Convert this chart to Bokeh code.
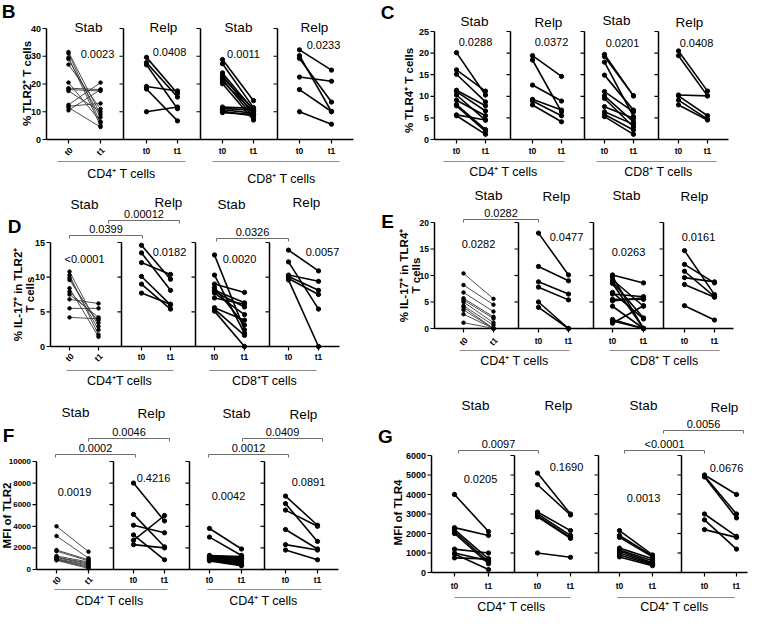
import math
from bokeh.plotting import figure
from bokeh.layouts import column, row
from bokeh.models import Range1d
from bokeh.core.properties import value
from bokeh.embed import file_html
from bokeh.resources import INLINE

FONT = "Liberation Sans"

# ------------------------------------------------------------------ data
groups_txt = ["Stab", "Relp", "Stab", "Relp"]
time_labels = ["t0", "t1"]

# Panel B: % TLR2+ T cells
B_ticks = [0, 10, 20, 30, 40]
B_pvals = ["0.0023", "0.0408", "0.0011", "0.0233"]
B_cd4_stab_t0 = [31.5, 31.0, 29.5, 29.0, 27.0, 20.5, 18.5, 18.0, 17.5, 12.5, 12.0, 11.5, 10.5]
B_cd4_stab_t1 = [9.0, 6.0, 5.0, 8.0, 11.0, 6.5, 18.0, 17.5, 10.0, 20.5, 13.0, 4.5, 18.0]
B_cd4_relp_t0 = [29.6, 27.7, 26.9, 19.1, 18.2, 10.0]
B_cd4_relp_t1 = [16.6, 15.3, 11.1, 17.5, 6.7, 11.7]
B_cd8_stab_t0 = [28.8, 27.3, 24.0, 23.2, 22.3, 21.6, 21.0, 20.1, 11.7, 11.2, 10.7, 10.2, 9.7]
B_cd8_stab_t1 = [14.0, 11.5, 10.5, 9.0, 11.0, 8.0, 10.0, 7.0, 11.2, 10.5, 9.5, 8.5, 9.0]
B_cd8_relp_t0 = [32.3, 30.2, 29.2, 22.5, 18.0, 10.0]
B_cd8_relp_t1 = [25.0, 10.0, 13.5, 21.0, 10.1, 5.5]

# Panel C: % TLR4+ T cells
C_ticks = [0, 5, 10, 15, 20, 25]
C_pvals = ["0.0288", "0.0372", "0.0201", "0.0408"]
C_cd4_stab_t0 = [20.1, 16.1, 15.1, 11.4, 11.1, 10.3, 9.1, 8.1, 7.8, 5.7, 5.5]
C_cd4_stab_t1 = [10.3, 11.2, 8.7, 7.8, 6.6, 4.5, 5.5, 2.3, 1.9, 4.5, 1.2]
C_cd4_relp_t0 = [19.4, 18.4, 12.6, 9.3, 8.9, 8.0]
C_cd4_relp_t1 = [14.6, 6.4, 8.9, 6.8, 5.5, 4.1]
C_cd8_stab_t0 = [19.7, 19.2, 17.9, 14.9, 11.1, 10.1, 9.5, 7.6, 6.4, 5.8, 5.3]
C_cd8_stab_t1 = [10.1, 10.1, 5.3, 6.8, 6.4, 4.1, 2.9, 4.9, 3.5, 2.2, 1.2]
C_cd8_relp_t0 = [20.5, 19.4, 10.3, 10.1, 9.1, 8.0]
C_cd8_relp_t1 = [11.2, 10.1, 10.1, 5.5, 4.7, 4.5]

# Panel D: % IL-17+ in TLR2+ T cells
D_ticks = [0, 5, 10, 15]
D_pvals = ["<0.0001", "0.0182", "0.0020", "0.0057"]
D_brackets = ["0.0399", "0.00012", "0.0326"]
D_cd4_stab_t0 = [10.8, 10.3, 9.9, 9.6, 8.4, 7.9, 7.5, 6.8, 5.5, 4.2]
D_cd4_stab_t1 = [2.9, 1.7, 2.4, 3.4, 1.4, 3.8, 4.2, 6.2, 5.5, 4.0]
D_cd4_relp_t0 = [14.6, 13.5, 12.1, 10.1, 9.0, 7.7]
D_cd4_relp_t1 = [9.7, 8.1, 10.4, 6.0, 5.4, 6.1]
D_cd8_stab_t0 = [13.2, 10.3, 9.0, 8.5, 8.1, 7.9, 7.7, 7.0, 5.6, 5.4, 5.1]
D_cd8_stab_t1 = [2.4, 1.9, 7.8, 3.1, 6.3, 5.7, 4.6, 6.1, 3.8, 1.6, 0.0]
D_cd8_relp_t0 = [13.9, 12.2, 10.3, 10.1, 9.8, 9.6]
D_cd8_relp_t1 = [10.9, 5.4, 9.4, 8.1, 7.5, 0.0]

# Panel E: % IL-17+ in TLR4+ T cells
E_ticks = [0, 5, 10, 15, 20]
E_pvals = ["0.0282", "0.0477", "0.0263", "0.0161"]
E_brackets = ["0.0282"]
E_cd4_stab_t0 = [10.4, 8.2, 6.8, 5.7, 5.4, 5.0, 4.3, 4.0, 3.5, 2.7, 1.1]
E_cd4_stab_t1 = [5.6, 4.5, 3.2, 2.2, 1.9, 1.1, 0.6, 0.0, 0.0, 0.0, 0.0]
E_cd4_relp_t0 = [18.0, 11.7, 8.8, 7.8, 5.0, 4.0]
E_cd4_relp_t1 = [10.1, 9.0, 6.5, 5.4, 0.0, 0.0]
E_cd8_stab_t0 = [10.1, 9.8, 9.2, 8.8, 8.5, 6.8, 6.5, 5.5, 5.2, 4.2, 1.7, 1.4, 1.0]
E_cd8_stab_t1 = [8.6, 0.0, 4.2, 2.0, 0.0, 1.8, 6.0, 5.5, 5.8, 0.0, 0.0, 0.0, 4.3]
E_cd8_relp_t0 = [14.7, 12.1, 10.8, 9.6, 8.3, 4.3]
E_cd8_relp_t1 = [6.4, 8.6, 6.0, 8.8, 5.9, 1.6]

# Panel F: MFI of TLR2
F_ticks = [0, 2000, 4000, 6000, 8000, 10000]
F_pvals = ["0.0019", "0.4216", "0.0042", "0.0891"]
F_brackets = ["0.0002", "0.0046", "0.0012", "0.0409"]
F_cd4_stab_t0 = [4000, 3100, 1800, 1700, 1250, 1150, 1100, 1000, 950, 900, 850]
F_cd4_stab_t1 = [1650, 1050, 900, 800, 700, 600, 500, 400, 300, 200, 100]
F_cd4_relp_t0 = [8000, 5100, 4100, 3200, 2700, 2300]
F_cd4_relp_t1 = [4500, 2100, 3400, 900, 5000, 2000]
F_cd8_stab_t0 = [3800, 3000, 1300, 1250, 1200, 1150, 1100, 1000, 950, 900, 850, 800]
F_cd8_stab_t1 = [1900, 1300, 1200, 1100, 1000, 900, 800, 700, 600, 500, 400, 350]
F_cd8_relp_t0 = [6800, 6100, 5500, 3700, 2300, 1800]
F_cd8_relp_t1 = [4100, 2600, 4000, 1900, 1800, 900]

# Panel G: MFI of TLR4
G_ticks = [0, 1000, 2000, 3000, 4000, 5000, 6000]
G_pvals = ["0.0205", "0.1690", "0.0013", "0.0676"]
G_brackets = ["0.0097", "<0.0001", "0.0056"]
G_cd4_stab_t0 = [4000, 2300, 2200, 2100, 2000, 1200, 1000, 950, 750]
G_cd4_stab_t1 = [2100, 1900, 700, 550, 450, 1000, 600, 150, 700]
G_cd4_relp_t0 = [5100, 4500, 3100, 3000, 2900, 2850, 1000]
G_cd4_relp_t1 = [3000, 2950, 2150, 1900, 1800, 1750, 780]
G_cd8_stab_t0 = [2150, 1900, 1800, 1250, 1150, 1100, 1000, 900, 800]
G_cd8_stab_t1 = [900, 850, 800, 700, 600, 500, 450, 400, 350]
G_cd8_relp_t0 = [5000, 4950, 4900, 3000, 2700, 2200]
G_cd8_relp_t1 = [4000, 3000, 2800, 1850, 1200, 1800]

# ------------------------------------------------------------------ layout (reference pixel positions)
COLS = {"L": (4, 376), "R": (380, 372)}
ROWS = {1: (2, 186), 2: (188, 204), 3: (408, 224)}

panels = [
    dict(col="L", row=1, letter="B", letter_xy=(12, 13), y0=141, ytop=30, ticks=B_ticks, tick_fs="9px",
         spines=[50, 127, 204, 281], end=357, t0x=[72, 150, 226, 303], t1x=[104, 181, 257, 335],
         title_xy=[(92, 29), (167, 29), (242, 29), (318, 29)],
         pvals=B_pvals, pv_xy=[(101, 55), (173, 53), (247, 55), (327, 46)],
         xlab_y=152, rot_first=True, thin_first=True,
         glines=[(61, 189), (216, 343)], gline_y=163,
         gtxt=["CD4⁺ T cells", "CD8⁺ T cells"], gtxt_xy=[(125, 175), (285, 180)],
         ylab=["% TLR2⁺ T cells"], ylab_x=[30], ylab_y=85,
         brackets=[], bracket_txt=[],
         data=[(B_cd4_stab_t0, B_cd4_stab_t1), (B_cd4_relp_t0, B_cd4_relp_t1),
               (B_cd8_stab_t0, B_cd8_stab_t1), (B_cd8_relp_t0, B_cd8_relp_t1)]),
    dict(col="R", row=1, letter="C", letter_xy=(391, 14), y0=141, ytop=33, ticks=C_ticks, tick_fs="9px",
         spines=[438, 514, 588, 662], end=732, t0x=[460, 536, 608, 682], t1x=[489, 565, 637, 711],
         title_xy=[(478, 23), (552, 24), (620, 22), (693, 24)],
         pvals=C_pvals, pv_xy=[(479, 43), (555, 43), (626, 44), (700, 44)],
         xlab_y=152, rot_first=False, thin_first=False,
         glines=[(447, 568), (600, 720)], gline_y=163,
         gtxt=["CD4⁺ T cells", "CD8⁺ T cells"], gtxt_xy=[(507, 173), (662, 173)],
         ylab=["% TLR4⁺ T cells"], ylab_x=[412], ylab_y=92,
         brackets=[], bracket_txt=[],
         data=[(C_cd4_stab_t0, C_cd4_stab_t1), (C_cd4_relp_t0, C_cd4_relp_t1),
               (C_cd8_stab_t0, C_cd8_stab_t1), (C_cd8_relp_t0, C_cd8_relp_t1)]),
    dict(col="L", row=2, letter="D", letter_xy=(18, 228), y0=348, ytop=244, ticks=D_ticks, tick_fs="9px",
         spines=[54, 125, 199, 273], end=343, t0x=[73, 145, 218, 292], t1x=[102, 174, 248, 322],
         title_xy=[(88, 206), (172, 204), (235, 206), (310, 204)],
         pvals=D_pvals, pv_xy=[(88, 260), (173, 253), (243, 260), (326, 253)],
         xlab_y=358, rot_first=True, thin_first=True,
         glines=[(70, 177), (213, 320)], gline_y=372,
         gtxt=["CD4⁺T cells", "CD8⁺T cells"], gtxt_xy=[(123, 382), (268, 382)],
         ylab=["% IL-17⁺ in TLR2⁺", "T cells"], ylab_x=[21, 33], ylab_y=296,
         brackets=[(73, 146, 237), (112, 183, 222), (220, 292, 240)], bracket_txt=D_brackets,
         data=[(D_cd4_stab_t0, D_cd4_stab_t1), (D_cd4_relp_t0, D_cd4_relp_t1),
               (D_cd8_stab_t0, D_cd8_stab_t1), (D_cd8_relp_t0, D_cd8_relp_t1)]),
    dict(col="R", row=2, letter="E", letter_xy=(391, 223), y0=330, ytop=224, ticks=E_ticks, tick_fs="8.5px",
         spines=[438, 522, 597, 667], end=737, t0x=[467, 542, 616, 688], t1x=[497, 572, 647, 718],
         title_xy=[(492, 197), (560, 198), (630, 197), (698, 198)],
         pvals=E_pvals, pv_xy=[(482, 245), (570, 238), (632, 253), (702, 238)],
         xlab_y=342, rot_first=True, thin_first=True,
         glines=[(463, 573), (613, 723)], gline_y=352,
         gtxt=["CD4⁺ T cells", "CD8⁺ T cells"], gtxt_xy=[(518, 362), (668, 362)],
         ylab=["% IL-17⁺ in TLR4⁺", "T cells"], ylab_x=[407, 419], ylab_y=277,
         brackets=[(467, 542, 221)], bracket_txt=E_brackets,
         data=[(E_cd4_stab_t0, E_cd4_stab_t1), (E_cd4_relp_t0, E_cd4_relp_t1),
               (E_cd8_stab_t0, E_cd8_stab_t1), (E_cd8_relp_t0, E_cd8_relp_t1)]),
    dict(col="L", row=3, letter="F", letter_xy=(12, 453), y0=587, ytop=479, ticks=F_ticks, tick_fs="8px",
         spines=[40, 117, 193, 268], end=342, t0x=[60, 137, 213, 289], t1x=[92, 168, 245, 321],
         title_xy=[(79, 430), (155, 431), (240, 431), (307, 432)],
         pvals=F_pvals, pv_xy=[(78, 509), (157, 495), (232, 513), (312, 499)],
         xlab_y=597, rot_first=True, thin_first=True,
         glines=[(58, 171), (211, 325)], gline_y=607,
         gtxt=["CD4⁺ T cells", "CD4⁺ T cells"], gtxt_xy=[(113, 618), (267, 618)],
         ylab=["MFI of TLR2"], ylab_x=[10], ylab_y=533,
         brackets=[(59, 139, 472), (92, 173, 456), (212, 292, 472), (246, 326, 456)],
         bracket_txt=F_brackets,
         data=[(F_cd4_stab_t0, F_cd4_stab_t1), (F_cd4_relp_t0, F_cd4_relp_t1),
               (F_cd8_stab_t0, F_cd8_stab_t1), (F_cd8_relp_t0, F_cd8_relp_t1)]),
    dict(col="R", row=3, letter="G", letter_xy=(389, 454), y0=590, ytop=473, ticks=G_ticks, tick_fs="9px",
         spines=[435, 518, 602, 685], end=751, t0x=[458, 541, 623, 708], t1x=[492, 574, 656, 740],
         title_xy=[(479, 423), (562, 423), (647, 423), (728, 425)],
         pvals=G_pvals, pv_xy=[(484, 496), (570, 484), (647, 515), (730, 485)],
         xlab_y=603, rot_first=False, thin_first=False,
         glines=[(458, 574), (621, 738)], gline_y=615,
         gtxt=["CD4⁺ T cells", "CD4⁺ T cells"], gtxt_xy=[(515, 624), (678, 624)],
         ylab=["MFI of TLR4"], ylab_x=[401], ylab_y=530,
         brackets=[(462, 542, 468), (628, 708, 468), (667, 747, 448)], bracket_txt=G_brackets,
         data=[(G_cd4_stab_t0, G_cd4_stab_t1), (G_cd4_relp_t0, G_cd4_relp_t1),
               (G_cd8_stab_t0, G_cd8_stab_t1), (G_cd8_relp_t0, G_cd8_relp_t1)]),
]


def txt(p, x, y, t, size, style="normal", align="center", baseline="middle", angle=0.0, color="black"):
    p.text(x=x, y=y, text=t, text_font=value(FONT), text_font_size=size, text_font_style=style,
           text_align=align, text_baseline=baseline, angle=angle, text_color=color,
           y_range_name="px")


def make_panel(s):
    colx, W = COLS[s["col"]]
    rowy, H = ROWS[s["row"]]
    lx = lambda v: v - colx
    ly = lambda v: v - rowy
    ticks = s["ticks"]
    ppu = (s["y0"] - s["ytop"]) / ticks[-1]
    y0 = ly(s["y0"])
    p = figure(width=W, height=H, output_backend="svg", toolbar_location=None,
               x_axis_type=None, y_axis_type=None,
               x_range=Range1d(0, W), y_range=Range1d((y0 - H) / ppu, y0 / ppu),
               min_border=0, outline_line_color=None, background_fill_color="white")
    p.extra_y_ranges = {"px": Range1d(H, 0)}
    p.grid.visible = False

    sp = [lx(v) for v in s["spines"]]
    ymax = ticks[-1]
    # spines and baseline
    p.segment(x0=sp, y0=[0] * 4, x1=sp, y1=[ymax] * 4, line_color="black", line_width=1.5)
    p.segment(x0=[sp[0]], y0=[0], x1=[lx(s["end"])], y1=[0], line_color="black", line_width=1.5)
    # y ticks
    tx0, tx1, ty = [], [], []
    for x in sp:
        for t in ticks:
            tx0.append(x - 4); tx1.append(x); ty.append(t)
    p.segment(x0=tx0, y0=ty, x1=tx1, y1=ty, line_color="black", line_width=1.2)
    p.text(x=[sp[0] - 5.5] * len(ticks), y=ticks, text=[str(t) for t in ticks],
           text_font=value(FONT), text_font_size=s["tick_fs"], text_font_style="bold",
           text_align="right", text_baseline="middle")
    # x ticks and labels
    xs = [lx(v) for pair in zip(s["t0x"], s["t1x"]) for v in pair]
    p.segment(x0=xs, y0=[y0] * len(xs), x1=xs, y1=[y0 + 4] * len(xs), line_color="black",
              line_width=1.2, y_range_name="px")
    labs = time_labels * 4
    if s["rot_first"]:
        txt(p, xs[:2], [ly(s["xlab_y"]) + 1] * 2, labs[:2], "8.5px", "bold", angle=math.pi / 4)
        txt(p, xs[2:], [ly(s["xlab_y"])] * 6, labs[2:], "8.5px", "bold")
    else:
        txt(p, xs, [ly(s["xlab_y"])] * 8, labs, "8.5px", "bold")
    # group lines + labels
    gy = ly(s["gline_y"])
    p.segment(x0=[lx(a) for a, b in s["glines"]], y0=[gy] * 2, x1=[lx(b) for a, b in s["glines"]],
              y1=[gy] * 2, line_color="#8c8c8c", line_width=1.2, y_range_name="px")
    txt(p, [lx(x) for x, y in s["gtxt_xy"]], [ly(y) for x, y in s["gtxt_xy"]], s["gtxt"], "12.5px")
    # titles
    txt(p, [lx(x) for x, y in s["title_xy"]], [ly(y) for x, y in s["title_xy"]], groups_txt, "13.5px")
    # p values
    txt(p, [lx(x) for x, y in s["pv_xy"]], [ly(y) for x, y in s["pv_xy"]], s["pvals"], "11px")
    # brackets
    if s["brackets"]:
        bx0 = [lx(a) for a, b, y in s["brackets"]]
        bx1 = [lx(b) for a, b, y in s["brackets"]]
        by = [ly(y) for a, b, y in s["brackets"]]
        p.segment(x0=bx0, y0=by, x1=bx1, y1=by, line_color="#6e6e6e", line_width=1, y_range_name="px")
        p.segment(x0=bx0 + bx1, y0=by + by, x1=bx0 + bx1, y1=[v + 3 for v in by + by],
                  line_color="#6e6e6e", line_width=1, y_range_name="px")
        txt(p, [(a + b) / 2 for a, b in zip(bx0, bx1)], [v - 6.5 for v in by], s["bracket_txt"], "11px")
    # y label
    n = len(s["ylab"])
    txt(p, [lx(v) for v in s["ylab_x"]], [ly(s["ylab_y"])] * n, s["ylab"], "11.5px", "bold",
        angle=math.pi / 2)
    # panel letter
    txt(p, [lx(s["letter_xy"][0])], [ly(s["letter_xy"][1])], [s["letter"]], "19px", "bold")
    # data
    for k, (a, b) in enumerate(s["data"]):
        thin = s["thin_first"] and k == 0
        x0 = lx(s["t0x"][k]); x1 = lx(s["t1x"][k])
        lw = 0.9 if thin else 1.6
        col = "#3a3a3a" if thin else "black"
        ms = 3.5 if thin else 4.3
        p.segment(x0=[x0] * len(a), y0=a, x1=[x1] * len(b), y1=b, line_color=col, line_width=lw)
        p.scatter(x=[x0] * len(a) + [x1] * len(b), y=a + b, size=ms, marker="circle",
                  fill_color="black", line_color="black")
    return p


figs = [make_panel(s) for s in panels]
layout = column(row(figs[0], figs[1], spacing=0), row(figs[2], figs[3], spacing=0),
                row(figs[4], figs[5], spacing=0), spacing=0)
open("out.html", "w").write(file_html(layout, INLINE))
